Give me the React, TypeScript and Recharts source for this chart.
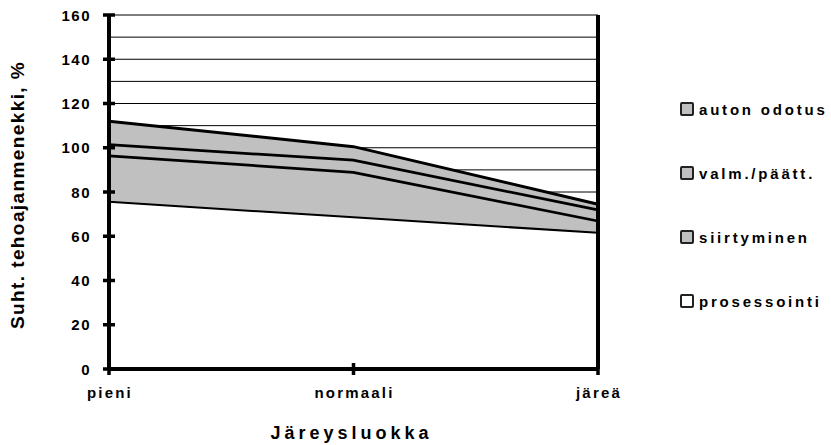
import React from 'react';
import { AreaChart, Area, XAxis, YAxis, CartesianGrid, Legend } from 'recharts';

// time use by log size class, stacked, % of the normal class total
const classes = ['pieni', 'normaali', 'järeä'];
const prosessointi = [76, 69, 62];
const siirtyminen = [21, 20.5, 5.5];
const valmPaatt = [5, 5.5, 5];
const autonOdotus = [10, 5.5, 2];

const yTicks = [0, 20, 40, 60, 80, 100, 120, 140, 160];
// left axis carries a tick every 10 so the grid gets a line there; only every 20 is labelled
const gridTicks = [0, 10, 20, 30, 40, 50, 60, 70, 80, 90, 100, 110, 120, 130, 140, 150, 160];

const FONT = '"Liberation Sans", Arial, sans-serif';

// the next area's fill covers the upper half of each stroke, so lower strokes are wider
const SERIES = [
  { key: 'prosessointi', values: prosessointi, fill: '#ffffff', width: 4 },
  { key: 'siirtyminen', values: siirtyminen, fill: '#c0c0c0', width: 5.5 },
  { key: 'valm./päätt.', values: valmPaatt, fill: '#c0c0c0', width: 5.5 },
  { key: 'auton odotus', values: autonOdotus, fill: '#c0c0c0', width: 3 },
];

const data = classes.map((luokka, i) => {
  const row: any = { luokka };
  SERIES.forEach(s => {
    row[s.key] = s.values[i];
  });
  return row;
});

const textStyle = { fontFamily: FONT, fontWeight: 700, fontSize: 15, fill: '#000' };

const LeftTick = ({ x, y, payload }: any) => {
  if (!yTicks.includes(payload.value)) return <g />;
  return (
    <g>
      <line x1={x - 6} x2={x + 6} y1={y} y2={y} stroke="#000" strokeWidth={3.5} />
      <text x={x - 18} y={y} dy={5.5} textAnchor="end" letterSpacing={1.5} style={textStyle}>
        {payload.value}
      </text>
    </g>
  );
};

const RightTick = ({ x, y, payload }: any) => (
  <g>
    <line x1={x - 6} x2={x + 6} y1={y} y2={y} stroke="#000" strokeWidth={3.5} />
    <text x={x + 17} y={y} dy={5.5} textAnchor="start" letterSpacing={1.5} style={textStyle}>
      {payload.value}
    </text>
  </g>
);

const BottomTick = ({ x, y, payload }: any) => (
  <g>
    <line x1={x} x2={x} y1={y - 6} y2={y + 6} stroke="#000" strokeWidth={3.5} />
    <text x={x + 1} y={y + 29} textAnchor="middle" letterSpacing={2.2} style={textStyle}>
      {payload.value}
    </text>
  </g>
);

const renderYTitle = ({ viewBox }: any) => {
  const cx = viewBox.x + 17;
  const cy = viewBox.y + viewBox.height / 2 + 3;
  return (
    <text
      x={cx}
      y={cy}
      dy={7}
      transform={`rotate(-90 ${cx} ${cy})`}
      textAnchor="middle"
      letterSpacing={1.4}
      style={{ ...textStyle, fontSize: 19 }}
    >
      Suht. tehoajanmenekki, %
    </text>
  );
};

const renderXTitle = ({ viewBox }: any) => (
  <text
    x={viewBox.x + viewBox.width / 2 - 2}
    y={viewBox.y + 70}
    textAnchor="middle"
    letterSpacing={4}
    style={{ ...textStyle, fontSize: 18 }}
  >
    Järeysluokka
  </text>
);

const renderLegend = () => (
  <div style={{ fontFamily: FONT }}>
    {[...SERIES].reverse().map(s => (
      <div key={s.key} style={{ height: 64, display: 'flex', alignItems: 'center' }}>
        <span
          style={{
            width: 10,
            height: 10,
            border: '2px solid #222',
            borderRadius: 2,
            background: s.fill,
            marginRight: 5,
            flexShrink: 0,
          }}
        />
        <span style={{ fontSize: 15, fontWeight: 700, letterSpacing: 2.8, color: '#000', whiteSpace: 'nowrap' }}>
          {s.key}
        </span>
      </div>
    ))}
  </div>
);

export default function App() {
  return (
    <div style={{ position: 'absolute', left: 0, top: 0, width: 831, height: 445, background: '#fff' }}>
      <AreaChart width={831} height={445} data={data} margin={{ top: 15, right: 173, bottom: 46, left: 0 }}>
        <CartesianGrid yAxisId="left" vertical={false} stroke="#000" strokeWidth={1} />
        <XAxis
          dataKey="luokka"
          height={30}
          interval={0}
          tickSize={0}
          tickMargin={0}
          tickLine={false}
          axisLine={{ stroke: '#000', strokeWidth: 4 }}
          tick={<BottomTick />}
          label={renderXTitle}
        />
        <YAxis
          yAxisId="left"
          width={109}
          domain={[0, 160]}
          ticks={gridTicks}
          interval={0}
          tickSize={0}
          tickMargin={0}
          tickLine={false}
          axisLine={{ stroke: '#000', strokeWidth: 4 }}
          tick={<LeftTick />}
          label={renderYTitle}
        />
        <YAxis
          yAxisId="right"
          orientation="right"
          width={60}
          domain={[0, 160]}
          ticks={yTicks}
          interval={0}
          tickSize={0}
          tickMargin={0}
          tickLine={false}
          axisLine={{ stroke: '#000', strokeWidth: 4 }}
          tick={<RightTick />}
        />
        {SERIES.map(s => (
          <Area
            key={s.key}
            yAxisId="left"
            type="linear"
            dataKey={s.key}
            stackId="1"
            stroke="#000"
            strokeWidth={s.width}
            fill={s.fill}
            fillOpacity={1}
            dot={false}
            activeDot={false}
            isAnimationActive={false}
          />
        ))}
        <Legend
          layout="horizontal"
          verticalAlign="middle"
          align="center"
          content={renderLegend}
          wrapperStyle={{ left: 680, top: 77, width: 151 }}
        />
      </AreaChart>
    </div>
  );
}
